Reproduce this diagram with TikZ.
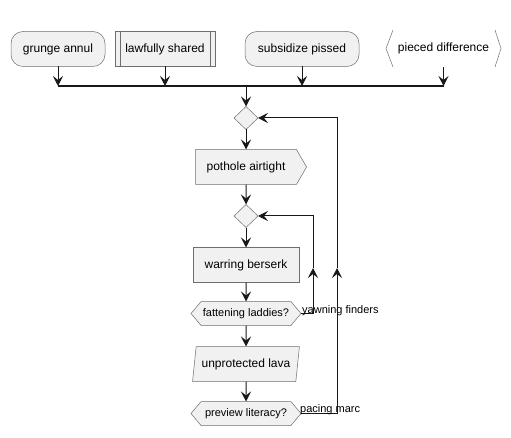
\documentclass[tikz,border=0pt]{standalone}
\usepackage{fontspec}
\setmainfont{Liberation Sans}
\usetikzlibrary{arrows.meta}
\usetikzlibrary{positioning}
\usetikzlibrary{shapes.geometric,shapes.symbols}
\definecolor{boxfill}{HTML}{F1F1F1}
\definecolor{boxline}{HTML}{181818}
\definecolor{boxedge}{HTML}{6E6E6E}

\begin{document}
\begin{tikzpicture}[x=1pt,y=-1pt]
  \tikzset{box/.style = {draw=boxedge, fill=boxfill, line width=0.5pt, font=\fontsize{12}{14}\selectfont, minimum height=35pt, inner sep=0pt, outer sep=0pt}}
  \tikzset{act/.style = {box, shape=rectangle}}
  \tikzset{start/.style = {box, rounded corners=12pt}}
  \tikzset{choice/.style = {box, shape=diamond, minimum width=24pt, minimum height=23pt}}
  \tikzset{test/.style = {box, shape=signal, signal to=west and east, signal pointer angle=100, minimum height=24pt, minimum width=110pt, font=\fontsize{11}{13}\selectfont}}
  \tikzset{pointer/.style = {box, shape=signal, signal to=east, signal pointer angle=120, minimum width=111pt}}
  \tikzset{slant/.style = {box, shape=trapezium, trapezium left angle=74, trapezium right angle=106, trapezium stretches, minimum width=107pt}}
  \tikzset{edge/.style = {draw=boxline, line width=1pt, -{Stealth[length=10pt,width=10pt,inset=4pt]}}}
  \tikzset{lbl/.style = {font=\fontsize{11}{13}\selectfont, inner sep=0pt, anchor=base west}}

  \useasboundingbox (0,0) rectangle (511,438);

  % top row
  \node[start, minimum width=94pt] (ga) at (58,49) {grunge annul};
  \node[act, minimum width=100pt] (ls) at (165,49) {lawfully shared};
  \draw[boxedge, line width=0.5pt] ([xshift=5pt]ls.north west) -- ([xshift=5pt]ls.south west);
  \draw[boxedge, line width=0.5pt] ([xshift=-5pt]ls.north east) -- ([xshift=-5pt]ls.south east);
  \node[start, minimum width=114pt] (sp) at (302,49) {subsidize pissed};
  \node[inner sep=0pt, outer sep=0pt, minimum width=115pt, minimum height=37pt, font=\fontsize{12}{14}\selectfont] (pd) at (443.5,48.5) {pieced difference};
  \draw[boxedge, line width=0.5pt] ([xshift=7pt]pd.north west) -- (pd.west) -- ([xshift=7pt]pd.south west);
  \draw[boxedge, line width=0.5pt] ([xshift=-6pt]pd.north east) -- (pd.east) -- ([xshift=-6pt]pd.south east);

  \coordinate (bar) at (246,86);
  \draw[boxline, line width=2pt] (ga.south |- bar) -- (pd.south |- bar);
  \foreach \n in {ga,ls,sp,pd}
    \draw[edge] (\n) -- (\n |- bar);

  % main column
  \node[choice] (d1) at (246,118) {};
  \node[pointer] (pa) [below=20pt of d1] {pothole airtight};
  \node[choice] (d2) [below=20pt of pa] {};
  \node[act, minimum width=106pt] (wb) [below=20pt of d2] {warring berserk};
  \node[test] (fl) [below=19pt of wb] {fattening laddies?};
  \node[slant] (ul) [below=21pt of fl] {unprotected lava};
  \node[test] (pl) [below=20pt of ul] {preview literacy?};

  \draw[edge] (bar) -- (d1);
  \draw[edge] (d1) -- (pa);
  \draw[edge] (pa) -- (d2);
  \draw[edge] (d2) -- (wb);
  \draw[edge] (wb) -- (fl);
  \draw[edge] (fl) -- (ul);
  \draw[edge] (ul) -- (pl);

  % loops back
  \coordinate (m2) at (313,268);
  \draw[edge] (fl.east) -| (m2);
  \draw[edge] (m2) |- (d2.east);
  \node[lbl] (yf) at (302,313) {yawning finders};

  \coordinate (m1) at (337,268);
  \draw[edge] (pl.east) -| (m1);
  \draw[edge] (m1) |- (d1.east);
  \node[lbl] (pm) at (300,412) {pacing marc};

\end{tikzpicture}
\end{document}
